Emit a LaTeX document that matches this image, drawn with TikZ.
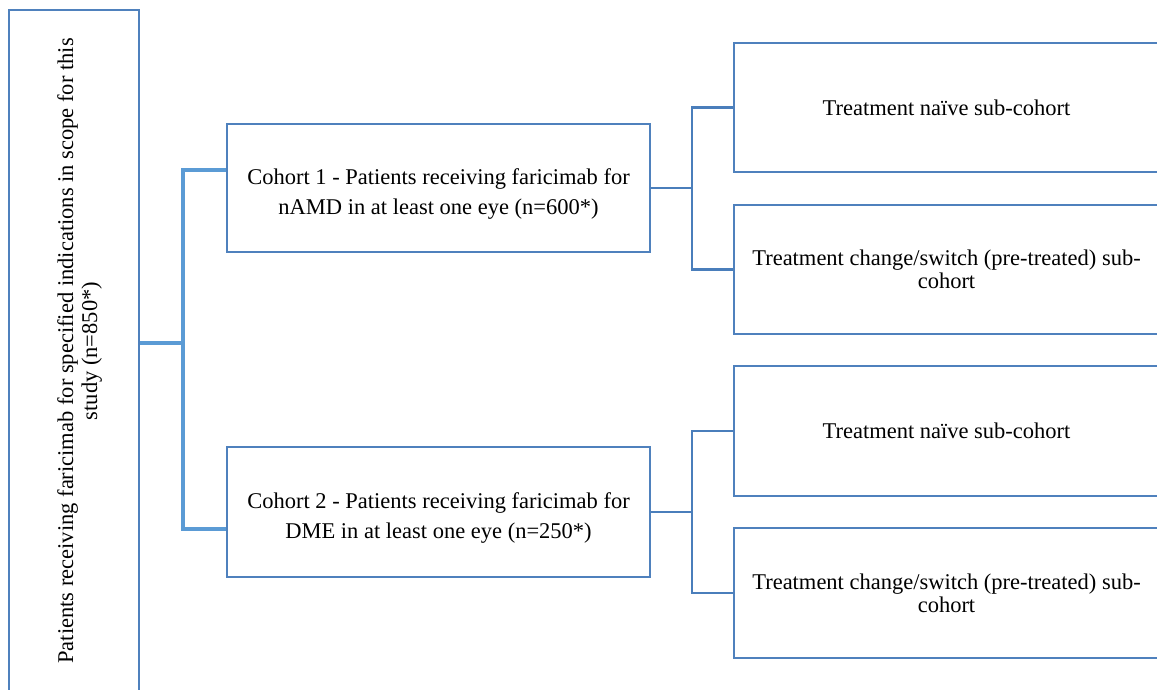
\documentclass[tikz,border=0pt]{standalone}
\usepackage{fontspec}
\setmainfont{Liberation Serif}
\usetikzlibrary{positioning}
\definecolor{boxblue}{HTML}{4F81BD}
\definecolor{trunkblue}{HTML}{5B9BD5}
\definecolor{branchblue}{HTML}{4A7EBB}
\tikzset{Box/.style={draw=boxblue, line width=1.4pt, rectangle, inner sep=0pt, align=center,
           font=\fontsize{22.5}{23}\selectfont},
         Wide/.style={font=\fontsize{22.5}{30.5}\selectfont, text height=58.5pt, text depth=5pt},
         Trunk/.style={draw=trunkblue, line width=3.5pt},
         Branch/.style={draw=branchblue, line width=2.5pt}}

\begin{document}
\begin{tikzpicture}[x=1pt, y=-1pt]
    \useasboundingbox (0,0) rectangle (1157,690);
    \node[Box, minimum width=682pt, minimum height=130pt, rotate=90, text height=50pt, text depth=4pt,
      font=\fontsize{22.5}{24}\selectfont] (Pop) at (74,351)
      {Patients receiving faricimab for specified indications in scope for this\\ study (n=850*)};
    \node[Box, Wide, minimum width=423pt, minimum height=128pt] (C1) at (438.5,188)
      {Cohort 1 - Patients receiving faricimab for\\ nAMD in at least one eye (n=600*)};
    \node[Box, Wide, minimum width=423pt, minimum height=130pt] (C2) at (438.5,512)
      {Cohort 2 - Patients receiving faricimab for\\ DME in at least one eye (n=250*)};
    \node[Box, minimum width=425pt, minimum height=129pt] (S11) at (946.5,107.5) {Treatment na\"ive sub-cohort};
    \node[Box, minimum width=425pt, minimum height=129pt] (S12) at (946.5,269.5)
      {Treatment change/switch (pre-treated) sub-\\ cohort};
    \node[Box, minimum width=425pt, minimum height=130pt] (S21) at (946.5,431) {Treatment na\"ive sub-cohort};
    \node[Box, minimum width=425pt, minimum height=130pt] (S22) at (946.5,593)
      {Treatment change/switch (pre-treated) sub-\\ cohort};
  % whole population to the two cohorts
    \coordinate (J0) at (183,343);
    \coordinate (B1) at (183,170);
    \coordinate (B2) at (183,529);
    \draw[Trunk] (Pop.south |- J0) -- (J0);
    \draw[Trunk] (C1.west |- B1) -- (B1) -- (B2) -- (C2.west |- B2);
  % cohorts to sub-cohorts
    \coordinate (K1) at (692,188);
    \coordinate (K2) at (692,512);
    \draw[Branch] (C1.east) -- (K1);
    \draw[Branch] (S11.west) -| (K1) |- (S12.west);
    \draw[Branch] (C2.east) -- (K2);
    \draw[Branch] (S21.west) -| (K2) |- (S22.west);
\end{tikzpicture}
\end{document}
